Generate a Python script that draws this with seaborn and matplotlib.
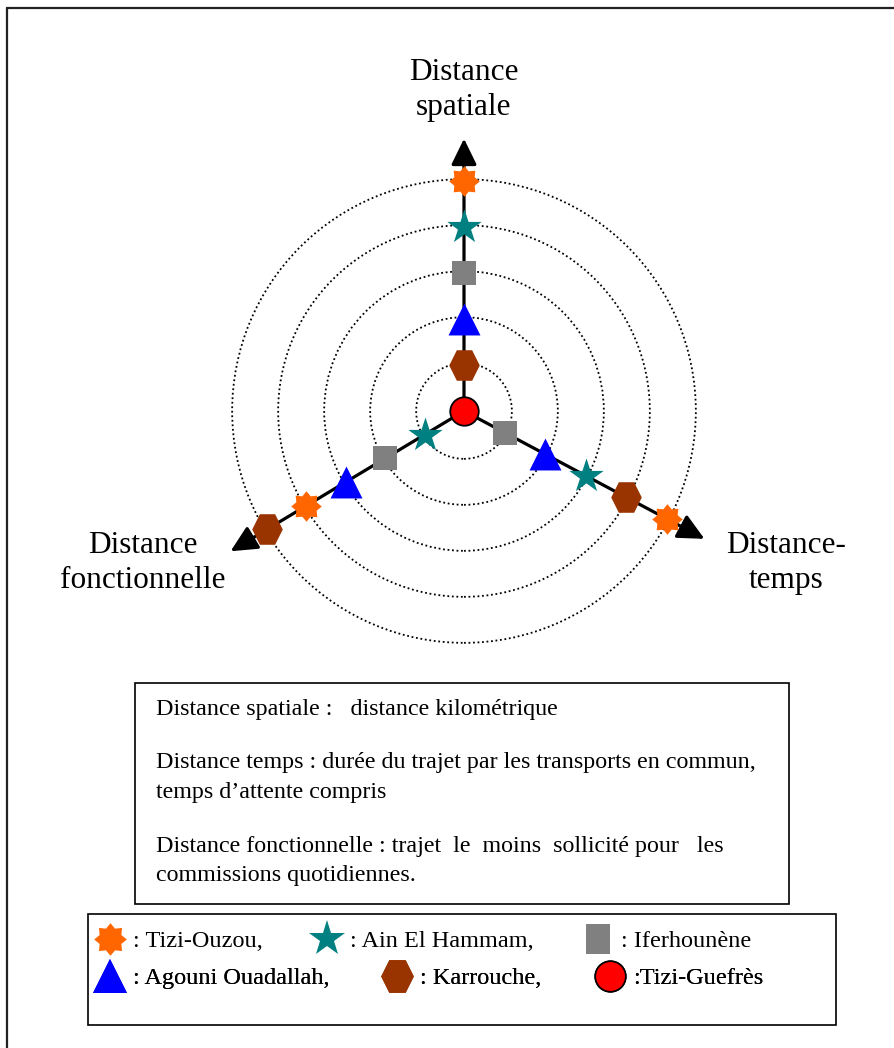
import numpy as np
import pandas as pd
import matplotlib
matplotlib.use("Agg")
import matplotlib.pyplot as plt
from matplotlib.lines import Line2D
from matplotlib.patches import Circle, Rectangle
import seaborn as sns

# rang de chaque ville sur les trois axes (0 = Tizi-Guefrès, au centre)
villes = ["Tizi-Ouzou", "Ain El Hammam", "Iferhounène",
          "Agouni Ouadallah", "Karrouche", "Tizi-Guefrès"]
rang_spatiale = [5, 4, 3, 2, 1, 0]
rang_temps = [5, 3, 1, 2, 4, 0]
rang_fonctionnelle = [4, 1, 2, 3, 5, 0]
anneaux = [1, 2, 3, 4, 5]

noms_axes = ["Distance\nspatiale", "Distance-\ntemps", "Distance\nfonctionnelle"]
legende = [": Tizi-Ouzou,", ": Ain El Hammam,", ": Iferhounène",
           ": Agouni Ouadallah,", ": Karrouche,", ":Tizi-Guefrès"]
definitions = [
    "Distance spatiale :   distance kilométrique",
    "Distance temps : durée du trajet par les transports en commun,",
    "temps d\u2019attente compris",
    "Distance fonctionnelle : trajet  le  moins  sollicité pour   les",
    "commissions quotidiennes.",
]

# mise en page (pixels de l'image)
W, H = 895, 1048
CX, CY = 464, 411
UNIT = 46.0
angles = [90, -28, 211]


def px(x, y):
    return ((x - CX) / UNIT, (CY - y) / UNIT)


def etoile(n, r_in):
    a = np.linspace(0, 2 * np.pi, 2 * n, endpoint=False) + np.pi / 2
    r = np.where(np.arange(2 * n) % 2 == 0, 1.0, r_in)
    return np.column_stack([r * np.cos(a), r * np.sin(a)])


hexagone = np.array([(1, 0), (0.5, 1), (-0.5, 1), (-1, 0), (-0.5, -1), (0.5, -1)])
rect_haut = np.array([(-0.8, -1), (0.8, -1), (0.8, 1), (-0.8, 1)])

couleurs = {"Tizi-Ouzou": "#FF6600", "Ain El Hammam": "#008080",
            "Iferhounène": "#808080", "Agouni Ouadallah": "#0000FF",
            "Karrouche": "#993300", "Tizi-Guefrès": "#FF0000"}
formes = {"Tizi-Ouzou": etoile(8, 0.72), "Ain El Hammam": "*",
          "Iferhounène": "s", "Agouni Ouadallah": "^",
          "Karrouche": hexagone, "Tizi-Guefrès": "o"}
tailles = {"Tizi-Ouzou": 22, "Ain El Hammam": 26, "Iferhounène": 17,
           "Agouni Ouadallah": 23, "Karrouche": 22, "Tizi-Guefrès": 20.5}

sns.set_theme(style="white")
plt.rcParams["font.family"] = ["Liberation Serif", "DejaVu Serif"]
plt.rcParams["text.color"] = "black"

# tableau long : une ligne par ville et par axe
lignes = []
for nom, rangs, ang in zip(noms_axes, [rang_spatiale, rang_temps, rang_fonctionnelle], angles):
    t = np.deg2rad(ang)
    for v, r in zip(villes, rangs):
        lignes.append({"axe": nom, "ville": v, "rang": r,
                       "x": r * np.cos(t), "y": r * np.sin(t)})
df = pd.DataFrame(lignes)

fig = plt.figure(figsize=(W / 100, H / 100), dpi=100)
ax = fig.add_axes([0, 0, 1, 1])
ax.set_xlim(-CX / UNIT, (W - CX) / UNIT)
ax.set_ylim(-(H - CY) / UNIT, CY / UNIT)
ax.axis("off")

# cercles pointillés
for r in anneaux:
    ax.add_patch(Circle((0, 0), r + 0.04, fill=False, ec="black", lw=1.3,
                        ls=(0, (1, 1.5)), zorder=1))

# axes fléchés
for ang in angles:
    t = np.deg2rad(ang)
    ax.annotate("", xy=(5.92 * np.cos(t), 5.92 * np.sin(t)), xytext=(0, 0),
                arrowprops=dict(arrowstyle="-|>,head_length=1.6,head_width=0.78",
                                mutation_scale=10, lw=2.3, color="black",
                                shrinkA=0, shrinkB=0), zorder=2)

# villes
for v in villes:
    sub = df[df["ville"] == v]
    if v == "Tizi-Guefrès":
        sub = sub.iloc[:1]
    sns.scatterplot(data=sub, x="x", y="y", marker=formes[v], color=couleurs[v],
                    s=tailles[v] ** 2, linewidth=1.3 if v == "Tizi-Guefrès" else 0,
                    edgecolor="black", ax=ax, zorder=4, legend=False)

# noms des axes
pos_noms = [(464, 90), (786, 563), (143, 563)]
for nom, (x, y) in zip(noms_axes, pos_noms):
    ax.text(*px(x, y), nom, ha="center", va="center", fontsize=22.5,
            linespacing=1.28)

# cadre extérieur (haut et gauche seulement)
ax.plot(*zip(px(7, 8), px(W, 8)), color="#222222", lw=1.6)
ax.plot(*zip(px(7, 8), px(7, H)), color="#222222", lw=1.6)

# encadré des définitions
x0, y0 = px(135, 904)
x1, y1 = px(789, 683)
ax.add_patch(Rectangle((x0, y0), x1 - x0, y1 - y0, fill=False, ec="black", lw=1.2))
bases = [715, 768, 798, 852, 881]
for txt, yb in zip(definitions, bases):
    ax.text(*px(156, yb), txt, ha="left", va="baseline", fontsize=17.3)

# encadré de la légende
x0, y0 = px(88, 1025)
x1, y1 = px(836, 914)
ax.add_patch(Rectangle((x0, y0), x1 - x0, y1 - y0, fill=False, ec="black", lw=1.2))


def poignee(v):
    m = rect_haut if v == "Iferhounène" else formes[v]
    taille = 22 if v == "Iferhounène" else tailles[v] + 1.5
    return Line2D([], [], ls="none", marker=m, markersize=taille,
                  markerfacecolor=couleurs[v],
                  markeredgecolor="black" if v == "Tizi-Guefrès" else "none",
                  markeredgewidth=1.2)


poignees = [poignee(v) for v in villes]
for k, (ytop, esp) in enumerate([(930, 2.05), (967, 2.2)]):
    leg = ax.legend(poignees[3 * k:3 * k + 3], legende[3 * k:3 * k + 3],
                    loc="upper left", bbox_to_anchor=px(95, ytop),
                    bbox_transform=ax.transData, ncol=3, frameon=False,
                    fontsize=17.5, handlelength=1.2, handletextpad=0.35,
                    columnspacing=esp, borderpad=0, borderaxespad=0)
    ax.add_artist(leg)

fig.savefig("out.png", dpi=100, facecolor="white")
